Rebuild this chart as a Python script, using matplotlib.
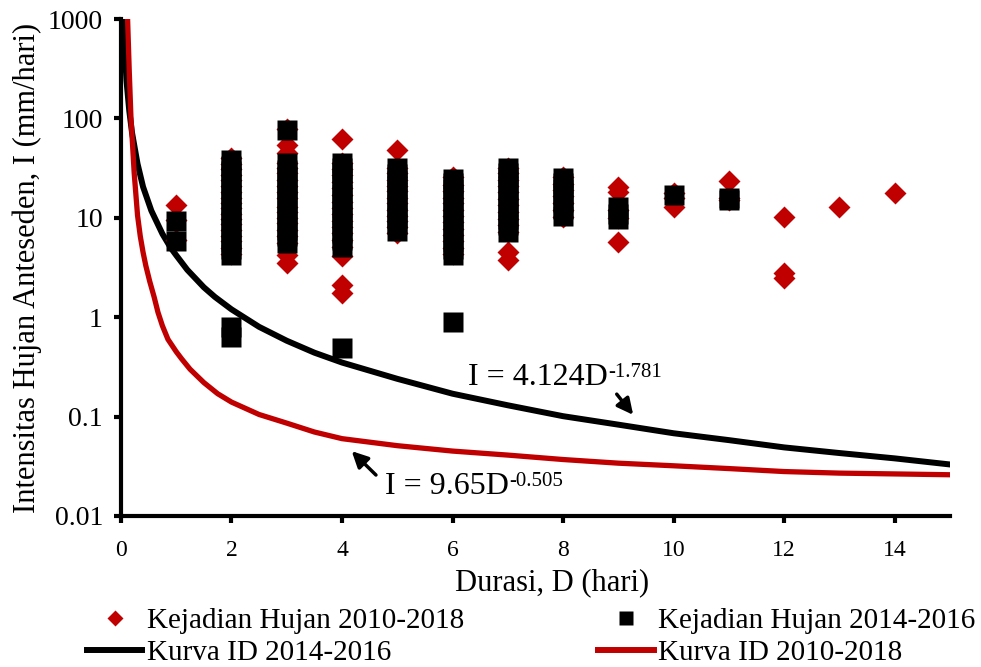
import numpy as np
import matplotlib
matplotlib.use("Agg")
import matplotlib.pyplot as plt
from matplotlib.lines import Line2D

plt.rcParams['font.family'] = ['Liberation Serif', 'DejaVu Serif']

# rain events per duration (days 1..14), intensity in mm/day
durations = [1, 2, 3, 4, 5, 6, 7, 8, 9, 10, 11, 12, 13, 14]

events_2010_2018 = [
    [13.5, 9.5, 6.0],
    [4.3, 5.0, 5.8, 6.6, 7.5, 8.6, 9.8, 11, 12.5, 14, 16, 18, 21, 24, 27, 31, 35, 40],
    [3.5, 4.2, 5.6, 6.5, 7.5, 8.8, 10, 11.5, 13, 16, 18, 21, 24, 28, 32, 36, 45, 54, 78],
    [1.75, 2.1, 4.1, 5.1, 6, 7, 8, 9.3, 11, 12.5, 14.5, 17, 20, 23, 27, 31, 36, 62],
    [7.0, 8, 9.2, 10.5, 12, 14, 16, 18.5, 21, 24, 28, 32, 48],
    [4.3, 5, 5.8, 6.7, 7.7, 9, 10.5, 12, 14, 16, 18.5, 21.5, 26],
    [3.8, 4.5, 7.2, 8.4, 9.8, 11.5, 13.5, 15.5, 18, 21, 24, 28, 32],
    [10.2, 12, 14, 16.5, 19, 22, 26],
    [5.7, 10, 12, 18, 20.5],
    [13, 16, 17.8],
    [15, 16, 23.5],
    [2.5, 2.8, 10.2],
    [12.9],
    [17.8],
]

events_2014_2016 = [
    [5.8, 9.3],
    [0.63, 0.8, 4.2, 4.9, 5.7, 6.6, 7.7, 9, 10.5, 12, 14, 16.5, 19, 22, 25.5, 29.5, 33.5, 38],
    [5.6, 6.5, 7.6, 8.9, 10.5, 12, 14, 16.5, 19, 22, 26, 30.5, 36, 76],
    [0.49, 5.1, 6, 7, 8.2, 9.6, 11, 13, 15, 17.5, 20.5, 24, 28, 32, 36],
    [7.4, 8.6, 10, 11.5, 13.5, 15.5, 18, 21, 24, 27.5, 31.6],
    [0.9, 4.2, 4.9, 5.7, 6.7, 7.8, 9, 10.5, 12.3, 14.3, 16.7, 19.5, 22.5, 24.6],
    [7.2, 8.4, 9.8, 11.4, 13.3, 15.5, 18, 21, 24.5, 28, 31.6],
    [10.4, 12.2, 14.3, 16.8, 19.7, 22.5, 25],
    [9.7, 11, 12.9],
    [16.9],
    [15, 16],
    [], [], [],
]

# ID threshold curves
curve_1416_d = [0.05, 0.07, 0.1, 0.15, 0.2, 0.3, 0.4, 0.55, 0.75, 0.9, 1, 1.2, 1.35, 1.5, 1.7,
                2, 2.5, 3, 3.5, 4, 5, 6, 7, 8, 9, 10, 11, 12, 13, 14, 15]
curve_1416_i = [1000, 480, 240, 120, 72, 35, 20.5, 11.8, 6.9, 5.0, 4.2, 3.0, 2.45, 2.0, 1.6,
                1.2, 0.8, 0.58, 0.44, 0.35, 0.24, 0.17, 0.13, 0.101, 0.083, 0.068, 0.058, 0.049,
                0.043, 0.038, 0.033]

curve_1018_d = [0.12, 0.15, 0.18, 0.24, 0.3, 0.35, 0.4, 0.45, 0.52, 0.6, 0.67, 0.75, 0.85, 1, 1.1,
                1.25, 1.5, 1.75, 2, 2.5, 3, 3.5, 4, 5, 6, 7, 8, 9, 10, 11, 12, 13, 14, 15]
curve_1018_i = [1000, 300, 105, 28, 10.6, 6.5, 4.5, 3.3, 2.3, 1.6, 1.12, 0.82, 0.6, 0.45, 0.38,
                0.3, 0.22, 0.17, 0.14, 0.105, 0.086, 0.07, 0.06, 0.051, 0.045, 0.041, 0.037, 0.034,
                0.032, 0.03, 0.028, 0.027, 0.0265, 0.026]

y_ticks = [0.01, 0.1, 1, 10, 100, 1000]
y_tick_labels = ['0.01', '0.1', '1', '10', '100', '1000']

red = '#C00000'

fig = plt.figure(figsize=(9.81, 6.67), dpi=100)
ax = fig.add_axes([0.1233, 0.2264, 0.845, 0.745])

red_x = [d for d, vals in zip(durations, events_2010_2018) for v in vals]
red_y = [v for vals in events_2010_2018 for v in vals]
blk_x = [d for d, vals in zip(durations, events_2014_2016) for v in vals]
blk_y = [v for vals in events_2014_2016 for v in vals]

ax.plot(curve_1416_d, curve_1416_i, color='black', lw=4.3, zorder=2)
ax.plot(curve_1018_d, curve_1018_i, color=red, lw=3.8, zorder=2)
ax.plot(red_x, red_y, ls='none', marker='D', ms=11.5, color=red, mec='none', zorder=3)
ax.plot(blk_x, blk_y, ls='none', marker='s', ms=14.5, color='black', mec='none', zorder=4)

ax.set_yscale('log')
ax.set_xlim(0, 15)
ax.set_ylim(0.01, 1000)
ax.set_xticks(range(0, 15, 2))
ax.set_yticks(y_ticks)
ax.set_yticklabels(y_tick_labels)
ax.yaxis.set_minor_locator(matplotlib.ticker.NullLocator())

for side in ['top', 'right']:
    ax.spines[side].set_visible(False)
for side in ['left', 'bottom']:
    ax.spines[side].set_linewidth(3)
ax.tick_params(axis='both', which='major', direction='out', length=5, width=3)
ax.tick_params(axis='x', labelsize=17, pad=12)
ax.tick_params(axis='y', labelsize=20, pad=8)

ax.set_xlabel('Durasi, D (hari)', fontsize=22)
ax.xaxis.set_label_coords(0.52, -0.105)
ax.set_ylabel('Intensitas Hujan Anteseden, I (mm/hari)', fontsize=22, labelpad=4)

# equation labels with arrows
arrow = dict(arrowstyle='-|>', color='black', lw=2.5, mutation_scale=24)
ax.annotate('', xy=(9.3, 0.099), xytext=(8.94, 0.177), arrowprops=arrow)
eq1 = ax.text(6.28, 0.245, 'I = 4.124D', fontsize=23, ha='left', va='center')
ax.annotate('-1.781', xy=(1.0, 0.68), xycoords=eq1, fontsize=15, ha='left', va='center')
ax.annotate('', xy=(4.14, 0.047), xytext=(4.65, 0.0247), arrowprops=arrow)
eq2 = ax.text(4.78, 0.0196, 'I = 9.65D', fontsize=23, ha='left', va='center')
ax.annotate('-0.505', xy=(1.0, 0.68), xycoords=eq2, fontsize=15, ha='left', va='center')

handles = [
    Line2D([], [], ls='none', marker='D', ms=11.5, color=red, mec='none'),
    Line2D([], [], color='black', lw=4.3),
    Line2D([], [], ls='none', marker='s', ms=14.5, color='black', mec='none'),
    Line2D([], [], color=red, lw=4.3),
]
labels = ['Kejadian Hujan 2010-2018', 'Kurva ID 2014-2016',
          'Kejadian Hujan 2014-2016', 'Kurva ID 2010-2018']
fig.legend(handles, labels, ncol=2, loc='lower left', bbox_to_anchor=(0.062, -0.038),
           frameon=False, fontsize=21, markerscale=0.72, handlelength=1.9,
           handletextpad=0.15, labelspacing=0.18, columnspacing=4.6)

fig.savefig('out.png', dpi=100)
